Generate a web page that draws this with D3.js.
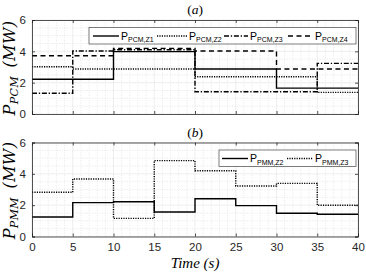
<!DOCTYPE html>
<html><head><meta charset="utf-8">
<script src="https://cdn.jsdelivr.net/npm/d3@7"></script>
<style>body{margin:0;background:#fff}svg{display:block}</style>
</head><body><svg id="c" width="366" height="274"></svg>
<script>
const times = [0,5,10,15,20,25,30,35,40];
const xTicks = [0,5,10,15,20,25,30,35,40];
const yTicks = [0,2,4,6];
const pcmZ1 = [2.22,2.22,3.98,3.98,2.87,2.87,1.65,1.65];
const pcmZ2 = [3.02,2.87,2.87,2.87,2.38,2.38,2.38,1.38];
const pcmZ3 = [1.32,4.02,4.10,4.10,1.42,1.42,1.42,3.23];
const pcmZ4 = [3.72,3.72,4.19,4.19,4.02,4.02,2.87,2.87];
const pmmZ2 = [1.24,2.16,2.22,1.56,2.41,1.97,1.48,1.42];
const pmmZ3 = [2.82,3.67,1.16,4.84,4.20,3.22,3.39,1.99];

const styles = {solid:null, dotted:"1.2,1.2", dashdot:"5,1.8,1.3,1.8", dashed:"5,3.5"};
const svg = d3.select("#c");
const L=32, R=358;
const x = d3.scaleLinear().domain([0,40]).range([L,R]);
const SERIF = "'DejaVu Serif', 'Liberation Serif', serif";
const SERIF2 = "'Liberation Serif', 'DejaVu Serif', serif";
const SANS = "'Liberation Sans', Arial, sans-serif";

function panel(top, bottom, series, title, ylabSub, legend, showX){
  const y = d3.scaleLinear().domain([0,6]).range([bottom, top]);
  const g = svg.append("g");
  const xm = d3.range(0,41,1).filter(v=>v%5);
  const ym = d3.range(0,6.01,0.5).filter(v=>v%2);
  g.selectAll(".xm").data(xm).join("line").attr("x1",d=>x(d)).attr("x2",d=>x(d)).attr("y1",top).attr("y2",bottom)
    .attr("stroke","#d8d8d8").attr("stroke-width",0.6).attr("stroke-dasharray","1,1.5");
  g.selectAll(".ym").data(ym).join("line").attr("y1",d=>y(d)).attr("y2",d=>y(d)).attr("x1",L).attr("x2",R)
    .attr("stroke","#d8d8d8").attr("stroke-width",0.6).attr("stroke-dasharray","1,1.5");
  g.selectAll(".xg").data(xTicks).join("line").attr("x1",d=>x(d)).attr("x2",d=>x(d)).attr("y1",top).attr("y2",bottom)
    .attr("stroke","#e6e6e6").attr("stroke-width",0.7);
  g.selectAll(".yg").data(yTicks).join("line").attr("y1",d=>y(d)).attr("y2",d=>y(d)).attr("x1",L).attr("x2",R)
    .attr("stroke","#e6e6e6").attr("stroke-width",0.7);
  const line = d3.line().x(d=>x(d[0])).y(d=>y(d[1])).curve(d3.curveStepAfter);
  series.forEach(s=>{
    const pts = times.map((t,i)=>[t, s.v[Math.min(i, s.v.length-1)]]);
    g.append("path").attr("d", line(pts)).attr("fill","none").attr("stroke","#000")
      .attr("stroke-width",1.4).attr("stroke-dasharray", styles[s.style]);
  });
  const ax = g.append("g").attr("transform",`translate(0,${bottom})`)
    .call(d3.axisBottom(x).tickValues(xTicks).tickSize(-3).tickPadding(6).tickFormat(showX?d3.format("d"):""));
  const axT = g.append("g").attr("transform",`translate(0,${top})`)
    .call(d3.axisTop(x).tickValues(xTicks).tickSize(-3).tickFormat(""));
  const ay = g.append("g").attr("transform",`translate(${L},0)`)
    .call(d3.axisLeft(y).tickValues(yTicks).tickSize(-3).tickPadding(6).tickFormat(d3.format("d")));
  const ayR = g.append("g").attr("transform",`translate(${R},0)`)
    .call(d3.axisRight(y).tickValues(yTicks).tickSize(-3).tickFormat(""));
  [ax,axT,ay,ayR].forEach(a=>{
    a.select(".domain").attr("stroke","#262626").attr("stroke-width",0.8);
    a.selectAll(".tick line").attr("stroke","#262626").attr("stroke-width",0.8);
    a.selectAll("text").attr("fill","#262626").attr("font-family",SANS).attr("font-size",11.5);
  });
  const tt = g.append("text").attr("x",(L+R)/2).attr("y",top-6).attr("text-anchor","middle")
    .attr("font-family",SERIF2).attr("font-size",13.5).attr("fill","#000");
  tt.append("tspan").text("(");
  tt.append("tspan").attr("font-style","italic").text(title);
  tt.append("tspan").text(")");
  const yl = g.append("text").attr("transform",`translate(15,${(top+bottom)/2+1}) rotate(-90)`)
    .attr("text-anchor","middle").attr("font-family",SERIF).attr("font-style","italic")
    .attr("font-size",16).attr("letter-spacing",0.4).attr("fill","#000");
  yl.append("tspan").text("P");
  yl.append("tspan").attr("font-size",11).attr("dy",3).text(ylabSub);
  yl.append("tspan").attr("dy",-3).text("\u2002(MW)");
  const lg = g.append("g");
  lg.append("rect").attr("x",legend.x0).attr("y",top+legend.dy).attr("width",R-2-legend.x0).attr("height",16.5)
    .attr("fill","#fff").attr("stroke","#262626").attr("stroke-width",0.6);
  legend.items.forEach((it,i)=>{
    const ly = top+legend.dy+8.5;
    lg.append("line").attr("x1",it.lx).attr("x2",it.lx+it.lw).attr("y1",ly).attr("y2",ly)
      .attr("stroke","#000").attr("stroke-width",1.4).attr("stroke-dasharray",styles[it.style]);
    const t = lg.append("text").attr("x",it.lx+it.lw+2).attr("y",ly+3.5).attr("font-family",SANS)
      .attr("font-size",10.5).attr("fill","#000");
    t.append("tspan").text("P");
    t.append("tspan").attr("font-size",7).attr("dy",2.5).text(it.sub);
  });
}

panel(20, 114, [
  {v:pcmZ1, style:"solid"},{v:pcmZ2, style:"dotted"},{v:pcmZ3, style:"dashdot"},{v:pcmZ4, style:"dashed"}
], "a", "PCM", {x0:89, dy:7.5, items:[
  {lx:93, lw:26, style:"solid", sub:"PCM,Z1"},
  {lx:157, lw:30, style:"dotted", sub:"PCM,Z2"},
  {lx:224, lw:24, style:"dashdot", sub:"PCM,Z3"},
  {lx:288, lw:25, style:"dashed", sub:"PCM,Z4"}
]}, false);

panel(142.5, 236.5, [
  {v:pmmZ2, style:"solid"},{v:pmmZ3, style:"dotted"}
], "b", "PMM", {x0:219, dy:7.5, items:[
  {lx:222, lw:26, style:"solid", sub:"PMM,Z2"},
  {lx:287, lw:26, style:"dotted", sub:"PMM,Z3"}
]}, true);

svg.append("text").attr("x",(L+R)/2).attr("y",268).attr("text-anchor","middle")
  .attr("font-family",SERIF2).attr("font-style","italic").attr("font-size",15).attr("fill","#000")
  .text("Time (s)");
</script></body></html>
